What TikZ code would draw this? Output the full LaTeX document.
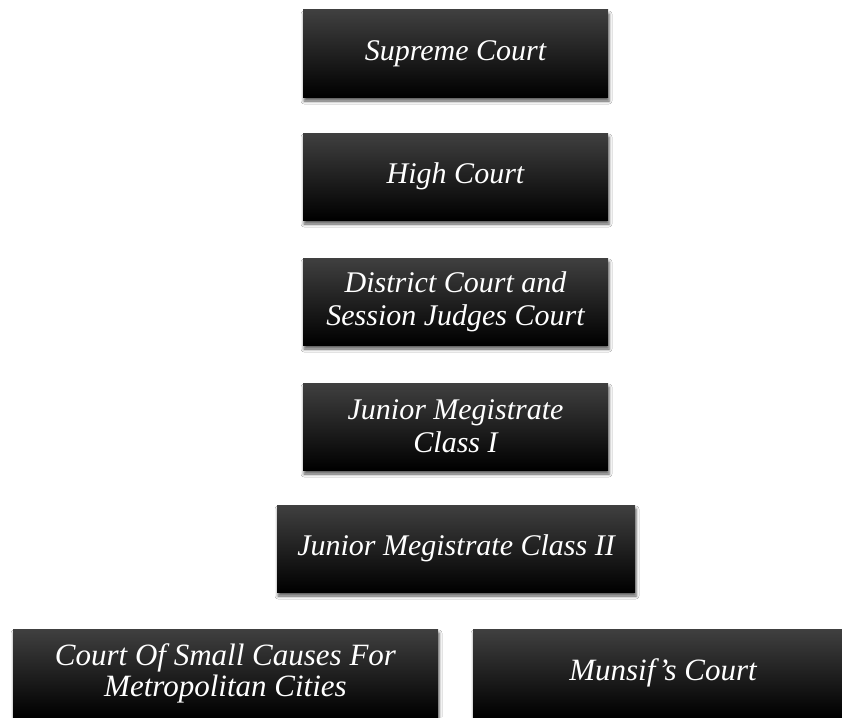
\documentclass[tikz,border=0pt]{standalone}
\usepackage{fontspec}
\setmainfont{Liberation Serif}
\usetikzlibrary{shadows.blur}

\tikzset{
  courtbox/.style={
    rectangle, draw=none, text=white,
    top color=black!75, middle color=black, bottom color=black,
    blur shadow={shadow xshift=1pt, shadow yshift=-4pt, shadow blur radius=3pt, shadow opacity=65},
    align=center, inner sep=0pt,
    font=\fontsize{30}{33}\selectfont\itshape
  },
  topbox/.style={courtbox, minimum width=305pt, minimum height=87pt}
}

\begin{document}
\begin{tikzpicture}[x=1pt,y=-1pt]
\fill[white] (0,0) rectangle (842,717);
\useasboundingbox (0,0) rectangle (842,717);
\clip (0,0) rectangle (842,717);

% Hierarchie
\node[topbox] (supreme)  at (455.5,53.5)  {Supreme Court};
\node[topbox] (high)     at (455.5,176.5) {High Court};
\node[topbox] (district) at (455.5,301.5) {District Court and\\Session Judges Court};
\node[topbox] (jmfc)     at (455.5,426.5) {Junior Megistrate\\Class I};

\node[courtbox, minimum width=358pt, minimum height=87pt] (jmsc) at (456,548.5) {Junior Megistrate Class II};

% untere Reihe
\node[courtbox, minimum width=425pt, minimum height=88pt,
  font=\fontsize{31}{31}\selectfont\itshape] (smallcauses) at (225.5,673)
  {Court Of Small Causes For\\Metropolitan Cities};
\node[courtbox, minimum width=380pt, minimum height=88pt,
  font=\fontsize{31}{31}\selectfont\itshape] (munsif) at (663,673) {Munsif’s Court};

\end{tikzpicture}
\end{document}
